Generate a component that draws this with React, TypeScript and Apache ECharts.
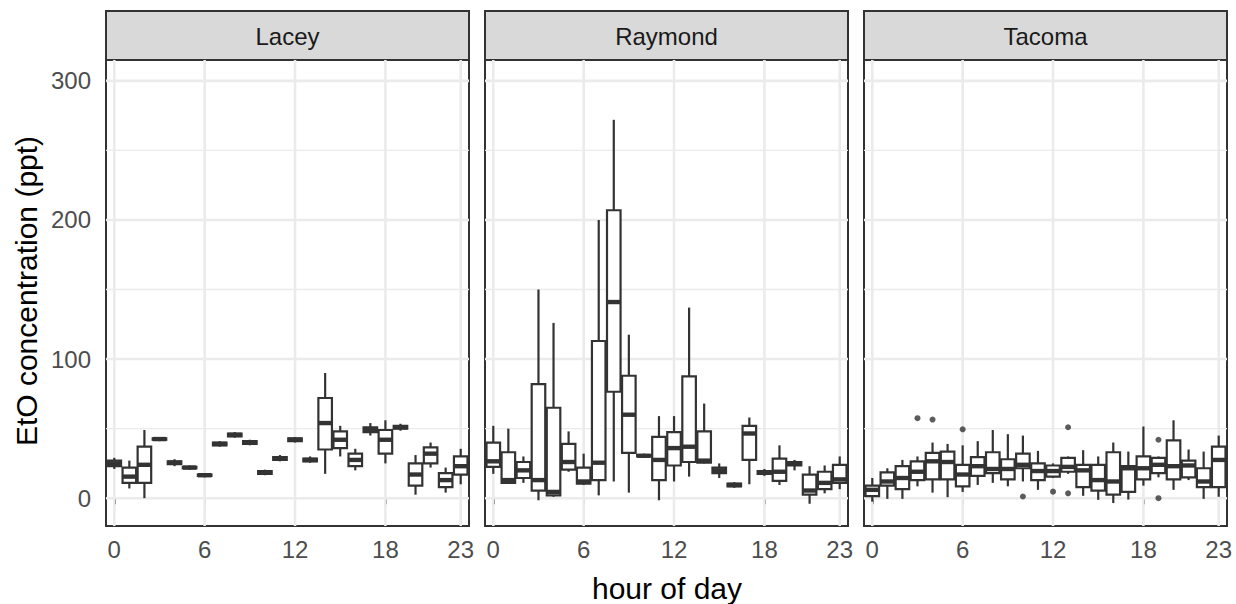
import React, { useEffect, useRef } from "react";
import * as echarts from "echarts";

const STATIONS = ["Lacey", "Raymond", "Tacoma"];
const HOURS = [0, 1, 2, 3, 4, 5, 6, 7, 8, 9, 10, 11, 12, 13, 14, 15, 16, 17, 18, 19, 20, 21, 22, 23];
const X_TICKS = [0, 6, 12, 18, 23];
const Y_TICKS = [0, 100, 200, 300];
const Y_MINOR = [50, 150, 250];

// [lower whisker, q1, median, q3, upper whisker] per hour
const LACEY = [
  [21, 23, 25, 27, 29], [7, 11, 15.5, 22, 27], [0, 11, 24, 37, 49], [41, 42, 42.5, 43, 44],
  [23, 24.5, 25.5, 26.5, 28], [20.5, 21.5, 22, 22.5, 23.5], [15, 16, 16.5, 17, 18], [37, 38, 39, 40, 41],
  [43.5, 44.5, 45.5, 46.5, 47.5], [38, 39, 40, 41, 42], [16.5, 17.5, 18.5, 19.5, 20.5], [26.5, 27.5, 28.5, 29.5, 31],
  [40, 41, 42, 43, 44], [25.5, 26.5, 27.5, 28.5, 30], [17.5, 35, 54, 72, 90], [30, 36, 42, 48, 52],
  [20, 23, 27.5, 32, 35.5], [45, 47.5, 49, 51, 54], [25, 32, 42, 49, 56], [48.5, 50, 51, 52, 53.5],
  [2.5, 9, 17, 25, 31], [22, 25, 32, 36.5, 40], [4, 8, 13, 18, 22], [10, 17, 23, 30, 35.5],
];
const RAYMOND = [
  [17.5, 22.5, 26.5, 40, 52], [10.5, 11, 13, 33, 50], [11, 14.5, 20, 26, 30], [-1.5, 5.5, 13, 82, 150],
  [1, 2, 4.5, 65, 126], [19, 20.5, 26, 39, 48], [9.5, 10.5, 12, 22, 32], [2, 13, 25.5, 113, 200],
  [12, 76.5, 141, 207, 272], [4, 32.5, 60, 88, 117.5], [29, 30, 30.5, 31, 32], [-1.5, 13, 27.5, 44, 59],
  [12, 23.5, 36, 47.5, 59], [15.5, 26, 37, 87.5, 137], [25, 25.5, 27, 48, 68], [14.5, 18, 20, 22, 25],
  [7.5, 8.5, 9.5, 10.5, 11.5], [10, 27.5, 46.5, 52, 58], [16, 17.5, 18.5, 19.5, 21], [9.5, 12.5, 19, 28.5, 38],
  [20, 23.5, 25, 26, 27.5], [-4, 2.5, 5.5, 17, 23], [3.5, 6.5, 11, 19, 23.5], [6.5, 11, 13.5, 24, 30],
];
const TACOMA = [
  [-2.5, 1.5, 6, 9, 14.5], [-0.5, 9, 12, 18.5, 21.5], [-0.5, 6.5, 14.5, 23, 27.5], [8.5, 13, 19, 26.5, 30],
  [4, 13.5, 26.5, 32.5, 40], [0.7, 13.5, 26, 33.5, 39], [4.5, 8.5, 17, 24, 38], [9.5, 16, 23, 29.5, 41],
  [11, 18, 21, 33, 49], [8.5, 13.5, 21, 28, 46], [12, 21.5, 24, 32, 45], [6, 13, 19.5, 25, 34],
  [14.5, 15.5, 19.5, 23.5, 25], [17.5, 19, 22.5, 29, 30], [1.7, 8, 20, 24, 34.5], [-1.2, 5.5, 13, 24, 30],
  [-3.5, 2.5, 12, 33, 40], [-1, 4.5, 21.5, 23, 33.5], [9, 13.5, 21.5, 30, 51.5], [15, 18, 24, 29, 30],
  [6, 13.5, 23, 41.5, 56], [13, 15, 23.5, 27, 35], [-0.5, 8, 12, 21.5, 33.5], [1, 8, 27.5, 37, 45],
];
// [hour, value]
const LACEY_OUT: number[][] = [];
const RAYMOND_OUT: number[][] = [];
const TACOMA_OUT = [
  [3, 57.5], [4, 56.5], [6, 49.5], [10, 1.2], [12, 4.7], [13, 51], [13, 3.5], [19, 42], [19, 0],
];

const BOXES = [LACEY, RAYMOND, TACOMA];
const OUTLIERS = [LACEY_OUT, RAYMOND_OUT, TACOMA_OUT];

const FONT = "Liberation Sans, Arial, sans-serif";
const DARK = "#333333";
const GRIDC = "#EBEBEB";

export default function App() {
  const ref = useRef<HTMLDivElement>(null);
  useEffect(() => {
    if (!ref.current) return;
    const chart = echarts.init(ref.current, null, { renderer: "svg" });
    const lefts = [106, 485, 864];
    const W = 363;
    const TOP = 60;
    const H = 466;

    const grids: any[] = [];
    const xAxes: any[] = [];
    const yAxes: any[] = [];
    const series: any[] = [];
    const graphics: any[] = [];

    const vLine = (lw: number) => (params: any, api: any) => {
      const cs = params.coordSys;
      const x = api.coord([api.value(0), 0])[0];
      return {
        type: "line",
        shape: { x1: x, y1: cs.y, x2: x, y2: cs.y + cs.height },
        style: { stroke: GRIDC, lineWidth: lw },
      };
    };
    const hLine = (lw: number) => (params: any, api: any) => {
      const cs = params.coordSys;
      const y = api.coord([0, api.value(0)])[1];
      return {
        type: "line",
        shape: { x1: cs.x, y1: y, x2: cs.x + cs.width, y2: y },
        style: { stroke: GRIDC, lineWidth: lw },
      };
    };

    STATIONS.forEach((name, i) => {
      grids.push({
        left: lefts[i],
        top: TOP,
        width: W,
        height: H,
        show: true,
        borderColor: DARK,
        borderWidth: 2,
        backgroundColor: "transparent",
      });
      xAxes.push({
        type: "value",
        gridIndex: i,
        min: -0.55,
        max: 23.55,
        axisLine: { show: false },
        splitLine: { show: false },
        axisTick: { show: true, length: 6, customValues: X_TICKS, lineStyle: { color: DARK, width: 2 } },
        axisLabel: { customValues: X_TICKS, color: "#4D4D4D", fontSize: 24, fontFamily: FONT, margin: 11 },
      });
      yAxes.push({
        type: "value",
        gridIndex: i,
        min: -20,
        max: 315,
        axisLine: { show: false },
        splitLine: { show: false },
        axisTick: { show: i === 0, length: 6, customValues: Y_TICKS, lineStyle: { color: DARK, width: 2 } },
        axisLabel: {
          show: i === 0,
          customValues: Y_TICKS,
          color: "#4D4D4D",
          fontSize: 24,
          fontFamily: FONT,
          margin: 15,
        },
      });
      series.push({
        type: "custom",
        xAxisIndex: i,
        yAxisIndex: i,
        z: 1,
        silent: true,
        encode: { y: 0 },
        data: Y_MINOR.map((v) => [v]),
        renderItem: hLine(1.3),
      });
      series.push({
        type: "custom",
        xAxisIndex: i,
        yAxisIndex: i,
        z: 1,
        silent: true,
        encode: { y: 0 },
        data: Y_TICKS.map((v) => [v]),
        renderItem: hLine(2.6),
      });
      series.push({
        type: "custom",
        xAxisIndex: i,
        yAxisIndex: i,
        z: 1,
        silent: true,
        encode: { x: 0 },
        data: X_TICKS.map((v) => [v]),
        renderItem: vLine(2.6),
      });
      series.push({
        type: "custom",
        name: name,
        xAxisIndex: i,
        yAxisIndex: i,
        z: 5,
        clip: true,
        encode: { x: 0, y: [1, 2, 3, 4, 5] },
        data: BOXES[i].map((b, h) => [HOURS[h], ...b]),
        renderItem: (params: any, api: any) => {
          const x = api.value(0);
          const pLo = api.coord([x, api.value(1)]);
          const pQ1 = api.coord([x, api.value(2)]);
          const pMed = api.coord([x, api.value(3)]);
          const pQ3 = api.coord([x, api.value(4)]);
          const pHi = api.coord([x, api.value(5)]);
          const hw = api.size([0.9, 0])[0] / 2;
          const lw = 2.2;
          return {
            type: "group",
            children: [
              { type: "line", shape: { x1: pHi[0], y1: pHi[1], x2: pQ3[0], y2: pQ3[1] }, style: { stroke: DARK, lineWidth: lw } },
              { type: "line", shape: { x1: pQ1[0], y1: pQ1[1], x2: pLo[0], y2: pLo[1] }, style: { stroke: DARK, lineWidth: lw } },
              {
                type: "rect",
                shape: { x: pQ3[0] - hw, y: pQ3[1], width: hw * 2, height: Math.max(pQ1[1] - pQ3[1], 0.5) },
                style: { fill: "#ffffff", stroke: DARK, lineWidth: lw },
              },
              {
                type: "line",
                shape: { x1: pMed[0] - hw, y1: pMed[1], x2: pMed[0] + hw, y2: pMed[1] },
                style: { stroke: DARK, lineWidth: 4.4 },
              },
            ],
          };
        },
      });
      series.push({
        type: "scatter",
        xAxisIndex: i,
        yAxisIndex: i,
        z: 6,
        symbol: "circle",
        symbolSize: 6,
        itemStyle: { color: DARK },
        data: OUTLIERS[i],
      });

      graphics.push({
        type: "rect",
        shape: { x: lefts[i], y: 11, width: W, height: TOP - 11 },
        style: { fill: "#D9D9D9", stroke: DARK, lineWidth: 2 },
      });
      graphics.push({
        type: "text",
        x: lefts[i] + W / 2,
        y: 36,
        style: {
          text: name,
          fill: "#1A1A1A",
          fontSize: 24,
          fontFamily: FONT,
          textAlign: "center",
          textVerticalAlign: "middle",
        },
      });
    });

    graphics.push({
      type: "text",
      x: 26,
      y: 291,
      rotation: Math.PI / 2,
      style: {
        text: "EtO concentration (ppt)",
        fill: "#000000",
        fontSize: 30,
        fontFamily: FONT,
        textAlign: "center",
        textVerticalAlign: "middle",
      },
    });
    graphics.push({
      type: "text",
      x: 667,
      y: 588,
      style: {
        text: "hour of day",
        fill: "#000000",
        fontSize: 30,
        fontFamily: FONT,
        textAlign: "center",
        textVerticalAlign: "middle",
      },
    });

    chart.setOption({
      animation: false,
      backgroundColor: "#ffffff",
      grid: grids,
      xAxis: xAxes,
      yAxis: yAxes,
      series,
      graphic: graphics,
    });
    return () => chart.dispose();
  }, []);
  return (
    <div
      ref={ref}
      style={{ position: "absolute", left: 0, top: 0, width: 1236, height: 604 }}
    />
  );
}
